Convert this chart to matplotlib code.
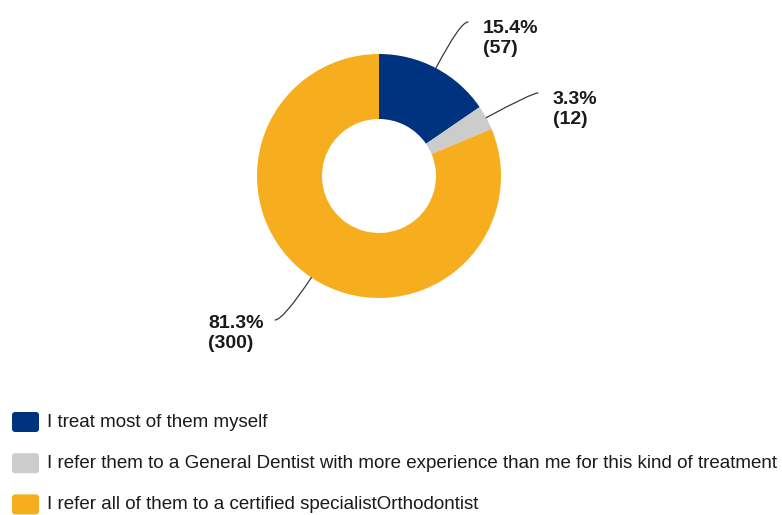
import numpy as np
import matplotlib.pyplot as plt
from matplotlib.patches import FancyBboxPatch

plt.rcParams["font.family"] = ["Liberation Sans", "DejaVu Sans"]

W, H = 782, 515  # canvas in pixels, drawn at dpi 100

categories = [
    "I treat most of them myself",
    "I refer them to a General Dentist with more experience than me for this kind of treatment",
    "I refer all of them to a certified specialistOrthodontist",
]
counts = [57, 12, 300]
percents = [15.4, 3.3, 81.3]
colors = ["#00337f", "#cccccc", "#f6ae1f"]

# ring geometry (pixels, y measured from the bottom)
CENTER = (379, H - 176)
R_OUT, RING = 122, 65

# callout text: left edge and first baseline, pixels from top-left
LABEL_POS = [(483, 30), (553, 101), (208, 325)]
LINE_GAP = 23  # distance between the two callout lines
# where each leader line stops next to its text
LINE_END = [(468, 22), (538, 93), (275, 320)]

LEG_X, LEG_Y0, LEG_STEP = 12, 412, 41.2


def main() -> None:
    fig = plt.figure(figsize=(W / 100, H / 100), dpi=100)
    ax = fig.add_axes([0, 0, 1, 1])

    wedges, _ = ax.pie(counts, colors=colors, startangle=90, counterclock=False,
                       radius=R_OUT, center=CENTER,
                       wedgeprops=dict(width=RING, linewidth=0))

    for w, pct, n, (tx, ty), (ex, ey) in zip(wedges, percents, counts,
                                             LABEL_POS, LINE_END):
        mid = np.deg2rad((w.theta1 + w.theta2) / 2)
        start = (CENTER[0] + R_OUT * np.cos(mid), CENTER[1] + R_OUT * np.sin(mid))
        ax.annotate("", xy=start, xytext=(ex, H - ey),
                    arrowprops=dict(arrowstyle="-", color="#3a3a3a", lw=0.9,
                                    shrinkA=0, shrinkB=0,
                                    connectionstyle=f"angle3,angleA=0,angleB={np.rad2deg(mid):.1f}"))
        # va="baseline" pins the last line, so anchor on the second row
        ax.text(tx, H - (ty + LINE_GAP), f"{pct}%\n({n})", ha="left", va="baseline",
                fontsize=14, fontweight="bold", color="#1a1a1a", linespacing=1.2)

    # legend: rounded swatches with labels underneath the ring
    for i, (label, c) in enumerate(zip(categories, colors)):
        top = LEG_Y0 + i * LEG_STEP
        ax.add_patch(FancyBboxPatch((LEG_X, H - top - 20), 27, 20,
                                    boxstyle="round,pad=0,rounding_size=3",
                                    facecolor=c, edgecolor="none"))
        ax.text(47, H - (top + 15), label, ha="left", va="baseline",
                fontsize=13.5, color="#1a1a1a")

    ax.set_xlim(0, W)
    ax.set_ylim(0, H)
    ax.set_aspect("equal")
    ax.axis("off")
    fig.savefig("out.png", dpi=100, facecolor="white")


if __name__ == "__main__":
    main()
